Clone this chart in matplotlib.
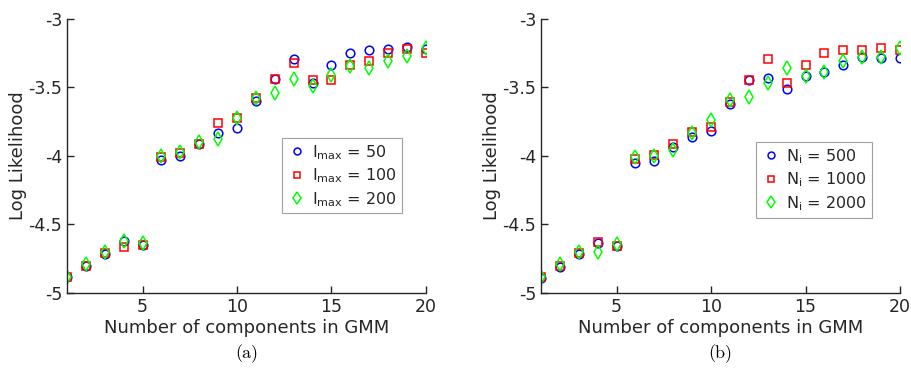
import numpy as np
import matplotlib
matplotlib.use('Agg')
import matplotlib.pyplot as plt

plt.rcParams['font.family'] = ['DejaVu Sans']
plt.rcParams['axes.unicode_minus'] = False

# 数据
k = np.arange(1, 21)

# (a) 不同 I_max
a_50 = [-4.88, -4.80, -4.717, -4.62, -4.65, -4.03, -4.00, -3.915, -3.834, -3.796,
        -3.60, -3.44, -3.29, -3.465, -3.338, -3.25, -3.23, -3.22, -3.207, -3.22]
a_100 = [-4.88, -4.80, -4.71, -4.667, -4.65, -4.005, -3.98, -3.91, -3.76, -3.725,
         -3.58, -3.44, -3.32, -3.445, -3.445, -3.338, -3.306, -3.25, -3.22, -3.25]
a_200 = [-4.88, -4.79, -4.70, -4.617, -4.633, -4.00, -3.97, -3.90, -3.876, -3.725,
         -3.575, -3.54, -3.44, -3.49, -3.41, -3.34, -3.36, -3.31, -3.27, -3.21]
a_labels = ['I$_{\\mathrm{max}}$ = 50', 'I$_{\\mathrm{max}}$ = 100', 'I$_{\\mathrm{max}}$ = 200']

# (b) 不同 N_i
b_500 = [-4.893, -4.808, -4.717, -4.633, -4.657, -4.053, -4.036, -3.937, -3.859, -3.82,
         -3.62, -3.445, -3.433, -3.513, -3.416, -3.385, -3.336, -3.28, -3.287, -3.287]
b_1000 = [-4.885, -4.80, -4.71, -4.625, -4.655, -4.02, -3.99, -3.915, -3.827, -3.79,
          -3.605, -3.445, -3.29, -3.465, -3.338, -3.25, -3.23, -3.226, -3.209, -3.226]
b_2000 = [-4.88, -4.79, -4.70, -4.70, -4.64, -4.01, -4.00, -3.956, -3.834, -3.737,
          -3.59, -3.567, -3.465, -3.36, -3.416, -3.385, -3.305, -3.28, -3.28, -3.214]
b_labels = ['N$_{\\mathrm{i}}$ = 500', 'N$_{\\mathrm{i}}$ = 1000', 'N$_{\\mathrm{i}}$ = 2000']

yticks = [-5, -4.5, -4, -3.5, -3]
ytick_labels = ['-5', '-4.5', '-4', '-3.5', '-3']
xticks = [5, 10, 15, 20]
captions = ['(a)', '(b)']

markers = ['o', 's', 'd']
colors = ['#0000ff', '#ff0000', '#00ff00']
sizes = [6.2, 5.2, 7.5]
dark = '#262626'

fig = plt.figure(figsize=(9.11, 3.73), dpi=100)
ax1 = fig.add_axes([0.0735, 0.2145, 0.394, 0.7346])
ax2 = fig.add_axes([0.5939, 0.2145, 0.394, 0.7346])

panels = [(ax1, [a_50, a_100, a_200], a_labels, (0.599, 0.565)),
          (ax2, [b_500, b_1000, b_2000], b_labels, (0.599, 0.55))]

for i, (ax, series, labels, anchor) in enumerate(panels):
    for s, m, c, ms, lab in zip(series, markers, colors, sizes, labels):
        ax.plot(k, s, linestyle='none', marker=m, markersize=ms,
                markerfacecolor='none', markeredgecolor=c, markeredgewidth=1.1, label=lab)
    ax.set_xlim(1, 20)
    ax.set_ylim(-5, -3)
    ax.set_xticks(xticks)
    ax.set_yticks(yticks)
    ax.set_yticklabels(ytick_labels)
    ax.spines['top'].set_visible(False)
    ax.spines['right'].set_visible(False)
    for sp in ['left', 'bottom']:
        ax.spines[sp].set_color(dark)
        ax.spines[sp].set_linewidth(1.0)
    ax.tick_params(direction='in', length=5, width=1.0, colors=dark, labelsize=12.5)
    ax.set_xlabel('Number of components in GMM', fontsize=13, color=dark, labelpad=2)
    ax.set_ylabel('Log Likelihood', fontsize=13, color=dark, labelpad=1)
    leg = ax.legend(loc='upper left', bbox_to_anchor=anchor, fontsize=11.5,
                    fancybox=False, edgecolor='#a0a0a0', framealpha=1,
                    handletextpad=0.3, handlelength=1.3, borderpad=0.3,
                    labelspacing=0.3, borderaxespad=0, markerscale=0.8)
    leg.get_frame().set_linewidth(0.8)
    for t in leg.get_texts():
        t.set_color(dark)
    ax.text(0.5, -0.222, captions[i], transform=ax.transAxes, ha='center', va='center',
            fontsize=13, family='cmr10')

fig.savefig('out.png', dpi=100)
